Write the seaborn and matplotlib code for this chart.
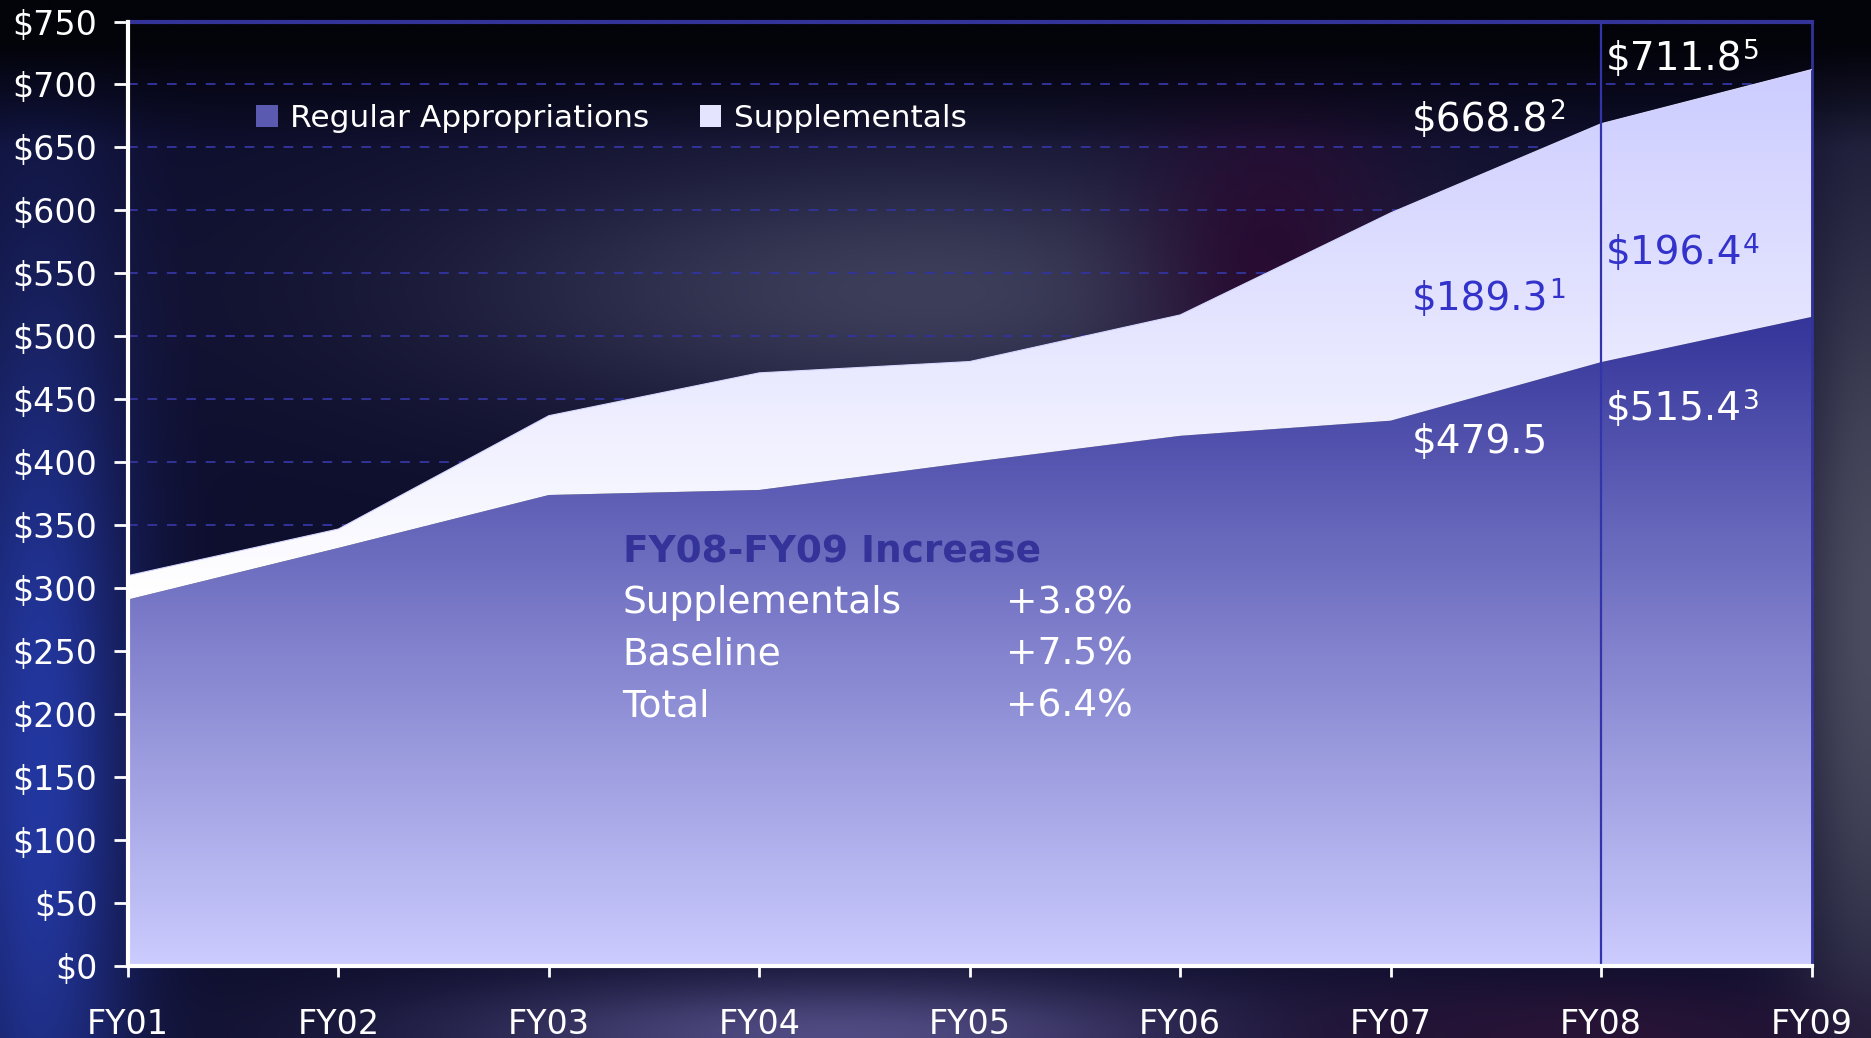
import numpy as np
import pandas as pd
import matplotlib
matplotlib.use("Agg")
import matplotlib.pyplot as plt
import seaborn as sns
from matplotlib.patches import Patch
from matplotlib.ticker import StrMethodFormatter

# Values ($B)
years = ["FY01", "FY02", "FY03", "FY04", "FY05", "FY06", "FY07", "FY08", "FY09"]
regular = [291, 332, 374, 378, 400, 421, 433, 479.5, 515.4]
supplementals = [19, 15, 63, 93, 80, 96, 165, 189.3, 196.4]
y_ticks = list(range(0, 751, 50))

increase_rows = ["Supplementals", "Baseline", "Total"]
increase_vals = ["+3.8%", "+7.5%", "+6.4%"]

df = pd.DataFrame({"year": years, "regular": regular, "supp": supplementals})
df["x"] = np.arange(len(df))
df["total"] = df["regular"] + df["supp"]

sns.set_theme(style="dark", rc={"axes.facecolor": "none"})
plt.rcParams["font.family"] = ["DejaVu Sans"]

W, H = 1871, 1038
fig = plt.figure(figsize=(W / 100, H / 100), dpi=100)

# background picture (soft dark navy slide)
u = np.linspace(0, 1, 400)[None, :]
v = np.linspace(0, 1, 240)[:, None]


def blob(cu, cv, su, sv):
    return np.exp(-((u - cu) ** 2) / (2 * su**2) - ((v - cv) ** 2) / (2 * sv**2))


bg = np.zeros((240, 400, 3))
bg[:] = np.array([14, 14, 45]) / 255
layers = [
    (blob(0.02, 0.75, 0.035, 0.35), (35, 55, 160)),
    (blob(0.5, 0.28, 0.18, 0.09), (60, 62, 90)),
    (blob(0.68, 0.25, 0.05, 0.12), (40, 12, 50)),
    (blob(1.0, 0.6, 0.03, 0.3), (75, 75, 95)),
    (blob(0.45, 1.0, 0.15, 0.04), (80, 75, 130)),
    (blob(0.85, 1.0, 0.12, 0.04), (40, 20, 55)),
]
for w, col in layers:
    bg = bg * (1 - w[..., None]) + w[..., None] * (np.array(col) / 255)
top = np.clip((0.14 - v) / 0.1, 0, 1)
bg = bg * (1 - top[..., None]) + top[..., None] * (np.array([3, 3, 10]) / 255)
bg_ax = fig.add_axes([0, 0, 1, 1])
bg_ax.imshow(bg, aspect="auto", extent=[0, 1, 0, 1], interpolation="bicubic")
bg_ax.axis("off")

ax = fig.add_axes([128 / W, 1 - 966 / H, (1811.5 - 128) / W, (966 - 21.5) / H])
ax.patch.set_alpha(0)

x = df["x"].to_numpy()
reg = df["regular"].to_numpy()
tot = df["total"].to_numpy()

# gradient fills
yy = np.linspace(0, 750, 400)[:, None]
light = np.array([204, 204, 255]) / 255
dark = np.array([51, 51, 153]) / 255
t = np.clip(yy / 520, 0, 1)[..., None]
reg_img = (light + (dark - light) * t) * np.ones((1, 2, 1))
t2 = np.clip((yy - 300) / 412, 0, 1)[..., None]
supp_img = (np.ones(3) + (light - np.ones(3)) * t2) * np.ones((1, 2, 1))

p_reg = ax.fill_between(x, 0, reg, color="none", lw=0)
p_sup = ax.fill_between(x, reg, tot, color="none", lw=0)
for img, poly in [(reg_img, p_reg), (supp_img, p_sup)]:
    im = ax.imshow(img, extent=[0, 8, 0, 750], origin="lower", aspect="auto", zorder=2)
    im.set_clip_path(poly.get_paths()[0], transform=ax.transData)

sns.lineplot(data=df, x="x", y="total", color="#d8d8ff", lw=0.8, ax=ax, zorder=3)

ax.axvline(7, color="#3333aa", lw=1.6, zorder=4)

ax.set_xlim(0, 8)
ax.set_ylim(0, 750)
ax.set_xticks(x)
ax.set_xticklabels(years)
ax.set_yticks(y_ticks)
ax.yaxis.set_major_formatter(StrMethodFormatter("${x:.0f}"))
ax.set_xlabel("")
ax.set_ylabel("")

ax.grid(axis="y", color="#333399", ls=(0, (5, 5)), lw=1.4, zorder=0)
ax.grid(axis="x", visible=False)
ax.set_axisbelow(True)

ax.tick_params(axis="y", colors="white", labelsize=24, length=10, width=2, pad=12, direction="out", left=True)
ax.tick_params(axis="x", colors="white", labelsize=24, length=8, width=2, pad=22, direction="out", bottom=True)
for s in ["left", "bottom"]:
    ax.spines[s].set_color("white")
    ax.spines[s].set_linewidth(3)
    ax.spines[s].set_zorder(5)
ax.spines["top"].set_color("#333399")
ax.spines["top"].set_linewidth(3)
ax.spines["right"].set_color("#333399")
ax.spines["right"].set_linewidth(2)
for s in ax.spines.values():
    s.set_visible(True)

handles = [Patch(facecolor="#5a5ab0", edgecolor="none", label="Regular Appropriations"),
           Patch(facecolor="#e4e4ff", edgecolor="none", label="Supplementals")]
leg = ax.legend(handles=handles, loc="center left", bbox_to_anchor=(0.076, 0.897), ncol=2,
                frameon=False, fontsize=22.5, labelcolor="white", handlelength=0.7,
                handleheight=0.7, handletextpad=0.4, columnspacing=1.6,
                borderpad=0, borderaxespad=0)
leg.set_zorder(6)

# value labels with footnote marks
labels = [
    (6.10, 672, "$668.8", "2", "white"),
    (7.02, 720, "$711.8", "5", "white"),
    (6.10, 530, "$189.3", "1", "#3333cc"),
    (7.02, 566, "$196.4", "4", "#3333cc"),
    (6.10, 416, "$479.5", "", "white"),
    (7.02, 442, "$515.4", "3", "white"),
]
for lx, ly, s, sup, c in labels:
    txt = ax.text(lx, ly, s, color=c, fontsize=28, ha="left", va="center", zorder=6)
    if sup:
        ax.annotate(sup, xy=(1, 1), xycoords=txt, xytext=(1, 1), textcoords="offset points",
                    color=c, fontsize=19, ha="left", va="top", zorder=6)

ax.text(2.35, 328, "FY08-FY09 Increase", color="#333399", fontsize=27, fontweight="bold",
        ha="left", va="center", zorder=6)
for i, (name, val) in enumerate(zip(increase_rows, increase_vals)):
    yv = 288 - i * 41
    ax.text(2.35, yv, name, color="white", fontsize=27, ha="left", va="center", zorder=6)
    ax.text(4.17, yv, val, color="white", fontsize=27, ha="left", va="center", zorder=6)

fig.savefig("out.png", dpi=100, facecolor=fig.get_facecolor())
